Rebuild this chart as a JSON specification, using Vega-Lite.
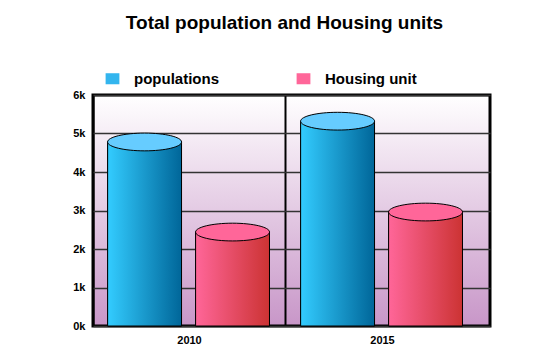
{
  "$schema": "https://vega.github.io/schema/vega-lite/v6.json",
  "width": 397,
  "height": 231,
  "autosize": "none",
  "padding": {"left": 93, "top": 95, "right": 60, "bottom": 24},
  "background": "#ffffff",
  "title": {"text": "Total population and Housing units", "fontSize": 19, "fontWeight": "bold", "font": "Liberation Sans", "color": "#000", "anchor": "middle", "offset": 38, "dx": -7},
  "config": {
    "font": "Liberation Sans",
    "view": {"stroke": "#000", "strokeWidth": 3, "fill": {"gradient": "linear", "x1": 0, "y1": 0, "x2": 0, "y2": 1, "stops": [{"offset": 0, "color": "#ffffff"}, {"offset": 1, "color": "#c896c8"}]}}
  },
  "data": {"values": [
    {"year": "2010", "series": "populations", "value": 4780},
    {"year": "2010", "series": "Housing unit", "value": 2440},
    {"year": "2015", "series": "populations", "value": 5320},
    {"year": "2015", "series": "Housing unit", "value": 2960}
  ]},
  "encoding": {
    "x": {"field": "year", "type": "nominal", "scale": {"paddingInner": 0, "paddingOuter": 0.0285, "align": 0}, "axis": {"title": null, "labelAngle": 0, "labelFontWeight": "bold", "labelFontSize": 11, "labelColor": "#000", "labelPadding": 8, "ticks": false, "domain": false, "grid": true, "bandPosition": 0, "gridColor": "#000", "gridWidth": 2, "gridOpacity": 1}},
    "xOffset": {"field": "series", "type": "nominal", "sort": ["populations", "Housing unit"], "scale": {"paddingInner": 0.16, "paddingOuter": 0.177, "align": 0.47}},
    "y": {"field": "value", "type": "quantitative", "scale": {"domain": [0, 6000], "nice": false}, "axis": {"title": null, "values": [0, 1000, 2000, 3000, 4000, 5000, 6000], "labelExpr": "datum.value/1000 + 'k'", "labelFontWeight": "bold", "labelFontSize": 11, "labelColor": "#000", "labelPadding": 8, "ticks": false, "domain": false, "gridColor": "#333", "gridWidth": 1.5, "gridOpacity": 1}}
  },
  "layer": [
    {
      "mark": {"type": "bar", "stroke": "#000", "strokeWidth": 1},
      "encoding": {
        "color": {"field": "series", "type": "nominal", "sort": ["populations", "Housing unit"], "scale": {"domain": ["populations", "Housing unit"], "range": ["#33b5ee", "#ff6699"]},
          "legend": {"title": null, "orient": "none", "legendX": 12, "legendY": -24, "direction": "horizontal", "columns": 2, "columnPadding": 77, "symbolType": "M-1,-0.8H1V0.8H-1Z", "symbolSize": 190, "symbolStrokeWidth": 0, "labelFontSize": 15, "labelFontWeight": "bold", "labelColor": "#000", "labelOffset": 14}}
      }
    },
    {
      "transform": [{"filter": "datum.series == 'populations'"}],
      "mark": {"type": "bar", "stroke": "#000", "strokeWidth": 1, "fill": {"gradient": "linear", "x1": 0, "y1": 0, "x2": 1, "y2": 0, "stops": [{"offset": 0, "color": "#33ccff"}, {"offset": 1, "color": "#006699"}]}}
    },
    {
      "transform": [{"filter": "datum.series == 'Housing unit'"}],
      "mark": {"type": "bar", "stroke": "#000", "strokeWidth": 1, "fill": {"gradient": "linear", "x1": 0, "y1": 0, "x2": 1, "y2": 0, "stops": [{"offset": 0, "color": "#ff6699"}, {"offset": 1, "color": "#cc3333"}]}}
    },
    {
      "transform": [{"filter": "datum.series == 'populations'"}],
      "mark": {"type": "point", "shape": "M-1,0A1,0.24,0,1,1,1,0A1,0.24,0,1,1,-1,0Z", "size": 5476, "filled": true, "fill": "#66ccff", "stroke": "#000", "strokeWidth": 1, "opacity": 1}
    },
    {
      "transform": [{"filter": "datum.series == 'Housing unit'"}],
      "mark": {"type": "point", "shape": "M-1,0A1,0.24,0,1,1,1,0A1,0.24,0,1,1,-1,0Z", "size": 5476, "filled": true, "fill": "#ff6699", "stroke": "#000", "strokeWidth": 1, "opacity": 1}
    }
  ]
}
